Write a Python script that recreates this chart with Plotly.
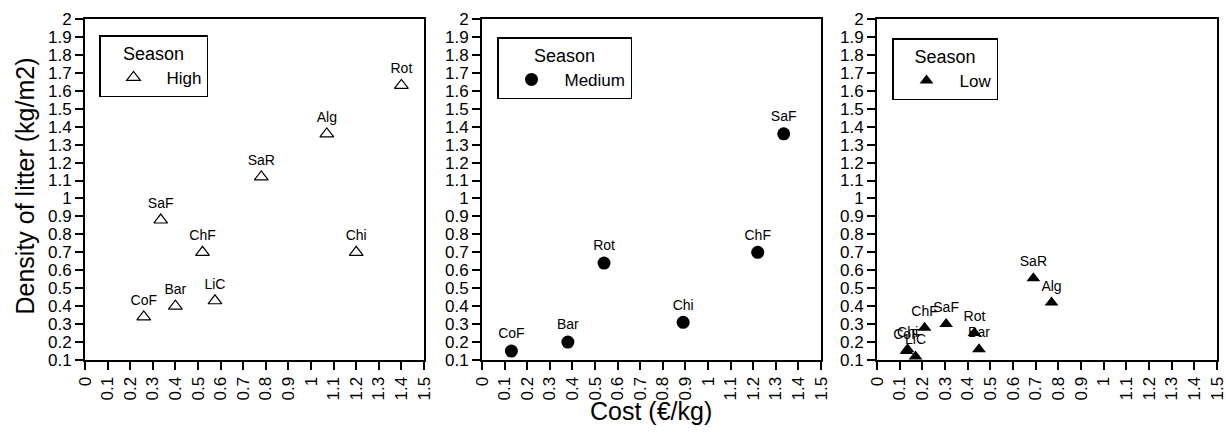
import plotly.graph_objects as go

# ---- data ----
high_names = ["CoF", "Bar", "LiC", "ChF", "SaF", "SaR", "Alg", "Rot", "Chi"]
high_cost = [0.26, 0.40, 0.575, 0.52, 0.335, 0.78, 1.07, 1.40, 1.20]
high_density = [0.34, 0.40, 0.43, 0.70, 0.88, 1.12, 1.36, 1.63, 0.70]

medium_names = ["CoF", "Bar", "Rot", "Chi", "ChF", "SaF"]
medium_cost = [0.13, 0.38, 0.54, 0.89, 1.22, 1.335]
medium_density = [0.15, 0.20, 0.64, 0.31, 0.70, 1.36]

low_names = ["CoF", "Chi", "LiC", "ChF", "SaF", "Rot", "Bar", "SaR", "Alg"]
low_cost = [0.13, 0.135, 0.17, 0.21, 0.305, 0.43, 0.45, 0.69, 0.77]
low_density = [0.15, 0.16, 0.12, 0.28, 0.30, 0.25, 0.16, 0.555, 0.42]

x_ticks = [0, 0.1, 0.2, 0.3, 0.4, 0.5, 0.6, 0.7, 0.8, 0.9, 1, 1.1, 1.2, 1.3, 1.4, 1.5]
x_tick_labels = ["0", "0.1", "0.2", "0.3", "0.4", "0.5", "0.6", "0.7", "0.8", "0.9",
                 "1", "1.1", "1.2", "1.3", "1.4", "1.5"]
y_ticks = [0.1, 0.2, 0.3, 0.4, 0.5, 0.6, 0.7, 0.8, 0.9, 1, 1.1, 1.2, 1.3, 1.4, 1.5,
           1.6, 1.7, 1.8, 1.9, 2]
y_tick_labels = ["0.1", "0.2", "0.3", "0.4", "0.5", "0.6", "0.7", "0.8", "0.9", "1",
                 "1.1", "1.2", "1.3", "1.4", "1.5", "1.6", "1.7", "1.8", "1.9", "2"]

W, H = 1226, 435
FONT = "Liberation Sans, Arial, sans-serif"

fig = go.Figure()

label_font = dict(family=FONT, size=14, color="black")

fig.add_trace(go.Scatter(
    x=high_cost, y=high_density, text=high_names, mode="markers+text",
    textposition="top center", textfont=label_font,
    marker=dict(symbol="triangle-up-open", size=12, color="black", line=dict(width=1.2, color="black")),
    name="High", xaxis="x", yaxis="y", legend="legend", cliponaxis=False,
    showlegend=True))

fig.add_trace(go.Scatter(
    x=medium_cost, y=medium_density, text=medium_names, mode="markers+text",
    textposition="top center", textfont=label_font,
    marker=dict(symbol="circle", size=13, color="black"),
    name="Medium", xaxis="x2", yaxis="y2", legend="legend2", cliponaxis=False,
    showlegend=True))

fig.add_trace(go.Scatter(
    x=low_cost, y=low_density, text=low_names, mode="markers+text",
    textposition="top center", textfont=label_font,
    marker=dict(symbol="triangle-up", size=12, color="black"),
    name="Low", xaxis="x3", yaxis="y3", legend="legend3", cliponaxis=False,
    showlegend=True))

panels_px = [(85, 424), (482, 821), (877, 1217)]
y_dom = [1 - 360 / H, 1 - 19 / H]

axis_common = dict(
    showline=True, linecolor="black", linewidth=2, mirror=True,
    ticks="outside", ticklen=8, tickwidth=1.5, tickcolor="black",
    showgrid=False, zeroline=False, tickmode="array", automargin=False,
    ticklabeloverflow="allow",
    tickfont=dict(family=FONT, size=17, color="black"),
)

layout = dict(
    template="none",
    width=W, height=H, margin=dict(l=0, r=0, t=0, b=0, pad=0),
    paper_bgcolor="white", plot_bgcolor="white",
    font=dict(family=FONT, color="black"),
    showlegend=True,
)

for i, (x0, x1) in enumerate(panels_px):
    sfx = "" if i == 0 else str(i + 1)
    layout["xaxis" + sfx] = dict(
        axis_common, domain=[x0 / W, x1 / W], range=[0, 1.5],
        tickvals=x_ticks, ticktext=x_tick_labels, tickangle=-90,
        anchor="y" + sfx)
    layout["yaxis" + sfx] = dict(
        axis_common, domain=y_dom, range=[0.1, 2],
        tickvals=y_ticks, ticktext=y_tick_labels, anchor="x" + sfx)

legend_pos = [(99, 35), (497, 37), (892, 38)]
for i, (lx, ly) in enumerate(legend_pos):
    key = "legend" if i == 0 else "legend" + str(i + 1)
    layout[key] = dict(
        x=lx / W, y=1 - ly / H, xanchor="left", yanchor="top",
        xref="paper", yref="paper", visible=True, itemwidth=56,
        bordercolor="black", borderwidth=1.5, bgcolor="white",
        font=dict(family=FONT, size=17, color="black"),
        title=dict(text="Season", side="top center", font=dict(family=FONT, size=18, color="black")),
    )

fig.update_layout(**layout)

fig.add_annotation(text="Density of litter (kg/m2)", textangle=-90,
                   x=25 / W, y=1 - 186.5 / H, xref="paper", yref="paper",
                   xanchor="center", yanchor="middle",
                   showarrow=False, font=dict(family=FONT, size=25, color="black"))
fig.add_annotation(text="Cost (€/kg)",
                   x=651 / W, y=1 - 411 / H, xref="paper", yref="paper",
                   xanchor="center", yanchor="middle",
                   showarrow=False, font=dict(family=FONT, size=25, color="black"))

fig.write_html("out.html", post_script="document.body.style.margin='0';document.body.style.overflow='hidden';")
